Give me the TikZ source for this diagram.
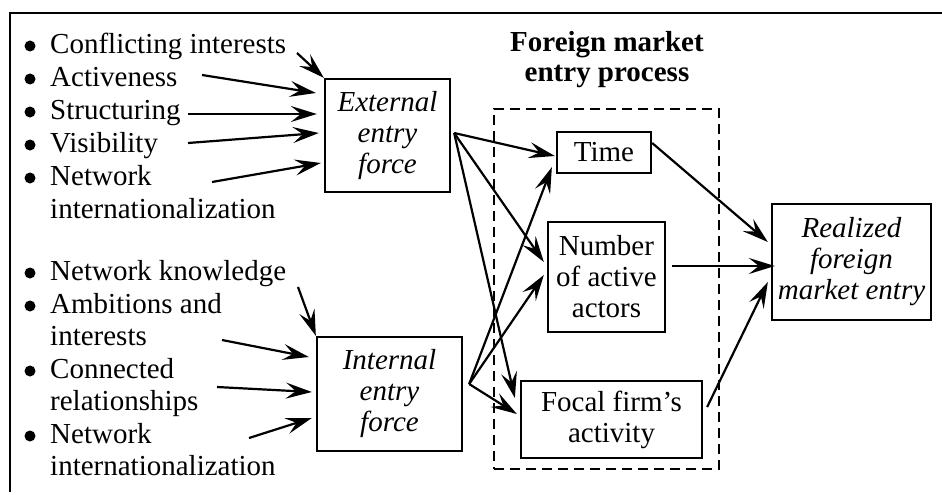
\documentclass[tikz,border=0pt]{standalone}
\usepackage{fontspec}
\setmainfont{Liberation Serif}
\usetikzlibrary{arrows.meta}
\begin{document}
\begin{tikzpicture}[x=1pt,y=-1pt,
  every node/.style={inner sep=0pt, font=\fontsize{29}{31}\selectfont},
  it/.style={font=\fontsize{29}{31}\selectfont\itshape},
  box/.style={draw, line width=2.3pt, align=center},
  itm/.style={anchor=base west},
  bul/.style={circle, fill, minimum size=11pt},
  arr/.style={line width=2.2pt, -{Stealth[length=26pt,width=16pt,inset=10pt]}},
]
\useasboundingbox (0,0) rectangle (942,495);
% outer frame (cropped)
\draw[line width=2.4pt] (10,492) -- (10,13) -- (942,13);

% upper bullet list
\node[bul] (b1) at (30,46) {};
\node[itm] (t1) at (50,53) {Conflicting interests};
\node[bul] (b2) at (30,79) {};
\node[itm] (t2) at (50,86) {Activeness};
\node[bul] (b3) at (30,112) {};
\node[itm] (t3) at (50,119) {Structuring};
\node[bul] (b4) at (30,145) {};
\node[itm] (t4) at (50,152) {Visibility};
\node[bul] (b5) at (30,178) {};
\node[itm] (t5) at (50,185) {Network};
\node[itm] (t5b) at (50,218) {internationalization};

% lower bullet list
\node[bul] (b6) at (30,273) {};
\node[itm] (t6) at (50,280) {Network knowledge};
\node[bul] (b7) at (30,306) {};
\node[itm] (t7) at (50,313) {Ambitions and};
\node[itm] (t7b) at (50,345) {interests};
\node[bul] (b8) at (30,371) {};
\node[itm] (t8) at (50,378) {Connected};
\node[itm] (t8b) at (50,410) {relationships};
\node[bul] (b9) at (30,436) {};
\node[itm] (t9) at (50,443) {Network};
\node[itm] (t9b) at (50,475) {internationalization};

% boxes
\node[box,it,minimum width=125pt,minimum height=113pt] (ext) at (387.5,135.5) {External\\entry\\force};
\node[box,it,minimum width=145pt,minimum height=114pt] (int) at (389.5,394) {Internal\\entry\\force};
\node[draw,line width=2.4pt,dash pattern=on 10pt off 6pt,minimum width=225pt,minimum height=360pt] (proc) at (606.5,289) {};
\node[font=\fontsize{29}{30}\selectfont\bfseries,align=center] (title) at (607,60) {Foreign market\\entry process};
\node[box,minimum width=94pt,minimum height=41pt] (time) at (604,152.5) {Time};
\node[box,minimum width=117pt,minimum height=110pt] (num) at (606.5,277) {Number\\of active\\actors};
\node[box,minimum width=181pt,minimum height=77pt] (focal) at (611.5,419.5) {Focal firm’s\\activity};
\node[box,it,minimum width=159pt,minimum height=116pt] (real) at (851.5,262) {Realized\\foreign\\market entry};

% arrow start points
\coordinate (s1) at (297,53);
\coordinate (s2) at (202,75);
\coordinate (s3) at (188,114);
\coordinate (s4) at (188,143);
\coordinate (s5) at (212,182);
\coordinate (s6) at (298,287);
\coordinate (s7) at (222,340);
\coordinate (s8) at (217,387);
\coordinate (s9) at (249,438);

% inputs to external
\draw[arr] (s1) -- (ext.north west);
\draw[arr] (s2) -- ([shift={(-8,-42.5)}]ext.west);
\draw[arr] (s3) -- ([shift={(-7,-21.5)}]ext.west);
\draw[arr] (s4) -- ([shift={(-5,-2.5)}]ext.west);
\draw[arr] (s5) -- ([shift={(-3,27.5)}]ext.west);
% inputs to internal
\draw[arr] (s6) -- (int.north west);
\draw[arr] (s7) -- ([shift={(-7,-37)}]int.west);
\draw[arr] (s8) -- ([shift={(-4,-2)}]int.west);
\draw[arr] (s9) -- ([shift={(-4,24)}]int.west);

% from external
\draw[arr] ([shift={(3,-2.5)}]ext.east) -- ([shift={(-1,3.5)}]time.west);
\draw[arr] ([shift={(3,-2.5)}]ext.east) -- ([shift={(-3,-15)}]num.west);
\draw[arr] ([shift={(3,-2.5)}]ext.east) -- ([shift={(-5,-21.5)}]focal.west);
% from internal
\draw[arr] ([shift={(6,-10)}]int.east) -- ([shift={(-4,-7)}]time.south west);
\draw[arr] ([shift={(6,-10)}]int.east) -- ([shift={(-3,-2)}]num.west);
\draw[arr] ([shift={(6,-10)}]int.east) -- ([shift={(-3,-5.5)}]focal.west);
% to realized
\draw[arr] ([shift={(0,-9.5)}]time.east) -- ([shift={(-3,-20)}]real.west);
\draw[arr] ([shift={(6,-11)}]num.east) -- ([shift={(4,4)}]real.west);
\draw[arr] ([shift={(4,-12.5)}]focal.east) -- ([shift={(-3,20)}]real.west);
\end{tikzpicture}
\end{document}
